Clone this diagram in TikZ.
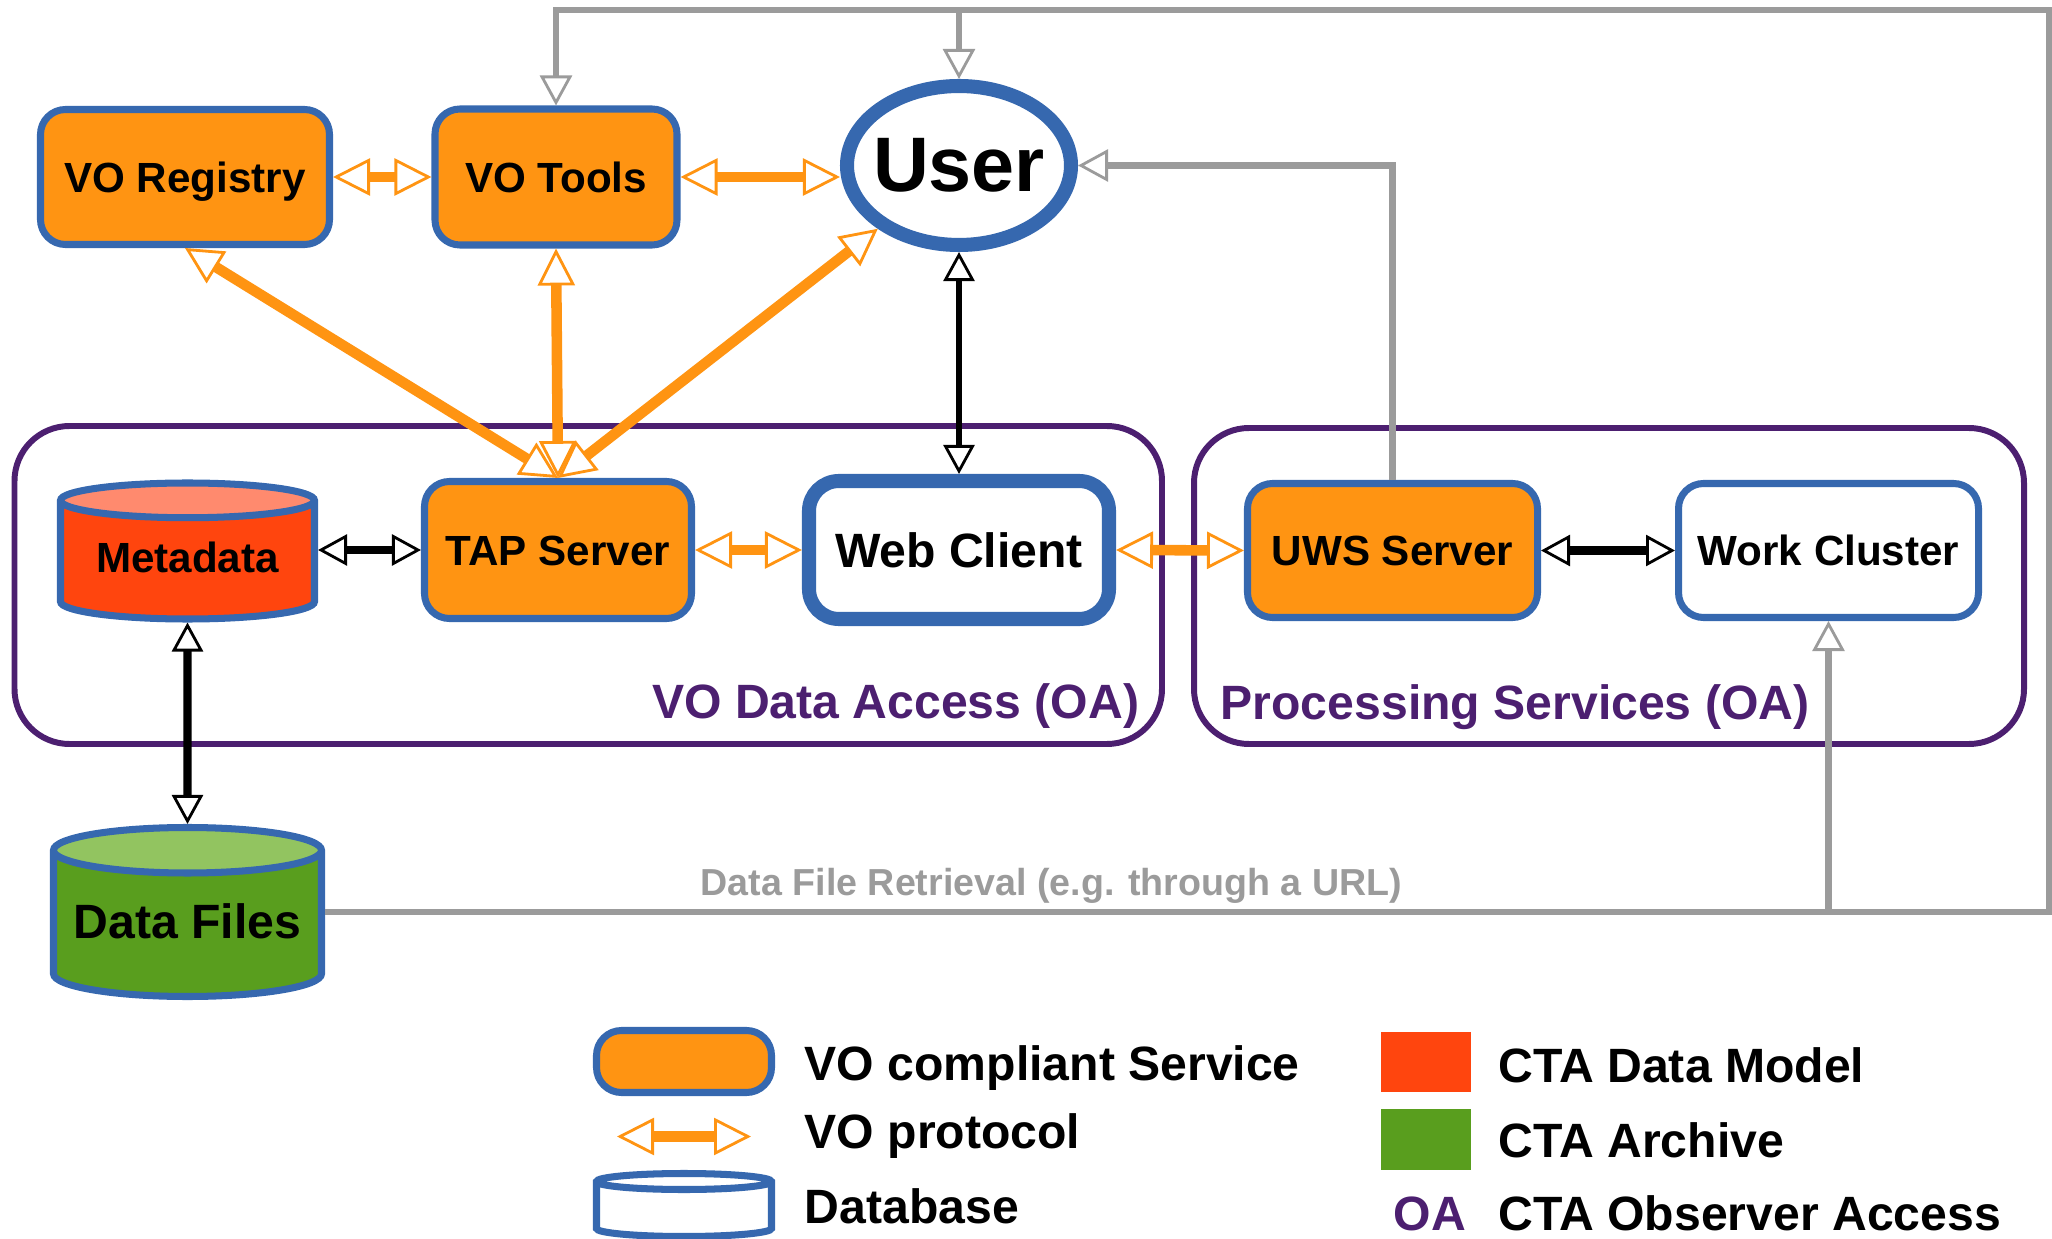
\documentclass[tikz,border=0pt]{standalone}
\usepackage{fontspec}
\setmainfont{Liberation Sans}
\usetikzlibrary{arrows.meta,shapes.geometric}
\definecolor{voorange}{HTML}{FF9412}
\definecolor{voblue}{HTML}{3668AF}
\definecolor{oapurple}{HTML}{4C1F70}
\definecolor{ctared}{HTML}{FF450E}
\definecolor{ctasalmon}{HTML}{FF8A6E}
\definecolor{ctagreen}{HTML}{599E1E}
\definecolor{ctalight}{HTML}{92C460}
\definecolor{linkgray}{HTML}{9B9B9B}
\begin{document}
\begin{tikzpicture}[
 votip/.tip={Triangle[fill=white, length=3.7mm, width=3.7mm, line width=0.8pt]},
 linktip/.tip={Triangle[fill=white, length=2.9mm, width=3.1mm, line width=0.8pt]},
 feedtip/.tip={Triangle[fill=white, length=3mm, width=3.2mm, line width=0.8pt]},
 service/.style={rectangle, rounded corners=2.5mm, draw=voblue, line width=2pt, fill=voorange, text height=8.7pt, text depth=0pt, font=\bfseries\fontsize{12}{14}\selectfont},
 client/.style={rectangle, rounded corners=3mm, draw=voblue, line width=4pt, fill=white, text height=9.9pt, text depth=0pt, font=\bfseries\fontsize{13.7}{16}\selectfont},
 userbox/.style={ellipse, draw=voblue, line width=4pt, fill=white, inner sep=0pt, font=\bfseries\fontsize{22}{26}\selectfont},
 db/.style={cylinder, shape border rotate=90, draw=voblue, line width=2pt, cylinder uses custom fill, inner sep=0pt, text depth=2.3pt, anchor=shape center},
 group/.style={draw=oapurple, line width=1.7pt, rounded corners=5.5mm},
 grouplabel/.style={inner sep=0pt, text=oapurple, font=\bfseries\fontsize{13.7}{16}\selectfont},
 keytext/.style={inner sep=0pt, anchor=base west, font=\bfseries\fontsize{13.7}{16}\selectfont},
 vo/.style={draw=voorange, line width=3pt, votip-votip},
 link/.style={draw=black, line width=2.3pt, linktip-linktip},
 feed/.style={draw=linkgray, line width=1.9pt, -feedtip}
]
\useasboundingbox (0,0) rectangle (20.52,-12.39);
\draw[group] (0.145,-4.26) rectangle (11.62,-7.44);
\draw[group] (11.94,-4.28) rectangle (20.24,-7.44);
\node[grouplabel, anchor=base east] (vodalabel) at (11.40,-7.18) {VO Data Access (OA)};
\node[grouplabel, anchor=base west] (pslabel) at (12.20,-7.19) {Processing Services (OA)};

\node[service, minimum width=2.89cm, minimum height=1.35cm] (reg) at (1.85,-1.77) {VO Registry};
\node[service, minimum width=2.42cm, minimum height=1.36cm] (tools) at (5.56,-1.77) {VO Tools};
\node[userbox, minimum width=2.24cm, minimum height=1.59cm] (user) at (9.59,-1.655) {\makebox[1cm]{User}};
\node[db, cylinder body fill=ctared, cylinder end fill=ctasalmon, aspect=0.19, minimum width=2.54cm, minimum height=1.36cm, font=\bfseries\fontsize{12}{14}\selectfont] (meta) at (1.875,-5.51) {Metadata};
\node[service, minimum width=2.67cm, minimum height=1.37cm] (tap) at (5.58,-5.50) {TAP Server};
\node[client, minimum width=3.00cm, minimum height=1.38cm] (web) at (9.59,-5.50) {Web Client};
\node[service, minimum width=2.90cm, minimum height=1.34cm] (uws) at (13.925,-5.505) {UWS Server};
\node[client, line width=2pt, rounded corners=2.5mm, text height=8.7pt, font=\bfseries\fontsize{12}{14}\selectfont, minimum width=3.00cm, minimum height=1.34cm] (work) at (18.285,-5.505) {Work Cluster};
\node[db, cylinder body fill=ctagreen, cylinder end fill=ctalight, aspect=0.2, minimum width=2.68cm, minimum height=1.69cm, font=\bfseries\fontsize{13.7}{16}\selectfont] (files) at (1.875,-9.12) {Data Files};

\coordinate (ne) at (20.49,-0.10);
\coordinate (se) at (20.49,-9.12);
\draw[feed] (files.east |- se) -- (se) -- (ne) -- (tools.north |- ne) -- (tools.north);
\draw[feed] (user.north |- ne) -- (user.north);
\draw[feed] (work.south |- se) -- (work.south);
\draw[feed] (uws.north) |- (user.east);
\node[inner sep=0pt, anchor=base west, text=linkgray, font=\bfseries\fontsize{10.7}{13}\selectfont] (retrieval) at (7.00,-8.95) {Data File Retrieval (e.g. through a URL)};

\draw[link] (tap.west -| meta.east) -- (tap.west);
\draw[link] (meta.south) -- (files.north);
\draw[link, line width=1.9pt] (user.south) -- (web.north);
\draw[link] (uws.east) -- (work.west);

\draw[vo] (reg.east) -- (tools.west);
\draw[vo] (tools.east) -- (tools.east -| user.west);
\draw[vo] (tap.east) -- (web.west);
\draw[vo] (web.east) -- (uws.west);
\draw[vo] (tap.north) -- (reg.south);
\draw[vo] (tap.north) -- (tools.south);
\draw[vo] (tap.north) -- (user);

\node[service, minimum width=1.75cm, minimum height=0.62cm] (servicekey) at (6.84,-10.615) {};
\coordinate (protoa) at (6.17,-11.365);
\coordinate (protob) at (7.51,-11.365);
\draw[vo] (protoa) -- (protob);
\node[db, cylinder body fill=white, cylinder end fill=white, aspect=0.1, text depth=0pt, minimum width=1.75cm, minimum height=0.63cm] (dbkey) at (6.84,-12.05) {\hspace*{1.6cm}};
\node[fill=ctared, inner sep=0pt, minimum width=0.9cm, minimum height=0.6cm] (modelkey) at (14.26,-10.62) {};
\node[fill=ctagreen, inner sep=0pt, minimum width=0.9cm, minimum height=0.61cm] (archivekey) at (14.26,-11.395) {};
\node[keytext] (servicetext) at (8.04,-10.80) {VO compliant Service};
\node[keytext] (prototext) at (8.04,-11.48) {VO protocol};
\node[keytext] (dbtext) at (8.04,-12.23) {Database};
\node[keytext] (modeltext) at (14.98,-10.82) {CTA Data Model};
\node[keytext] (archivetext) at (14.98,-11.57) {CTA Archive};
\node[keytext, text=oapurple] (oakey) at (13.93,-12.30) {OA};
\node[keytext] (oatext) at (14.98,-12.30) {CTA Observer Access};
\end{tikzpicture}
\end{document}
